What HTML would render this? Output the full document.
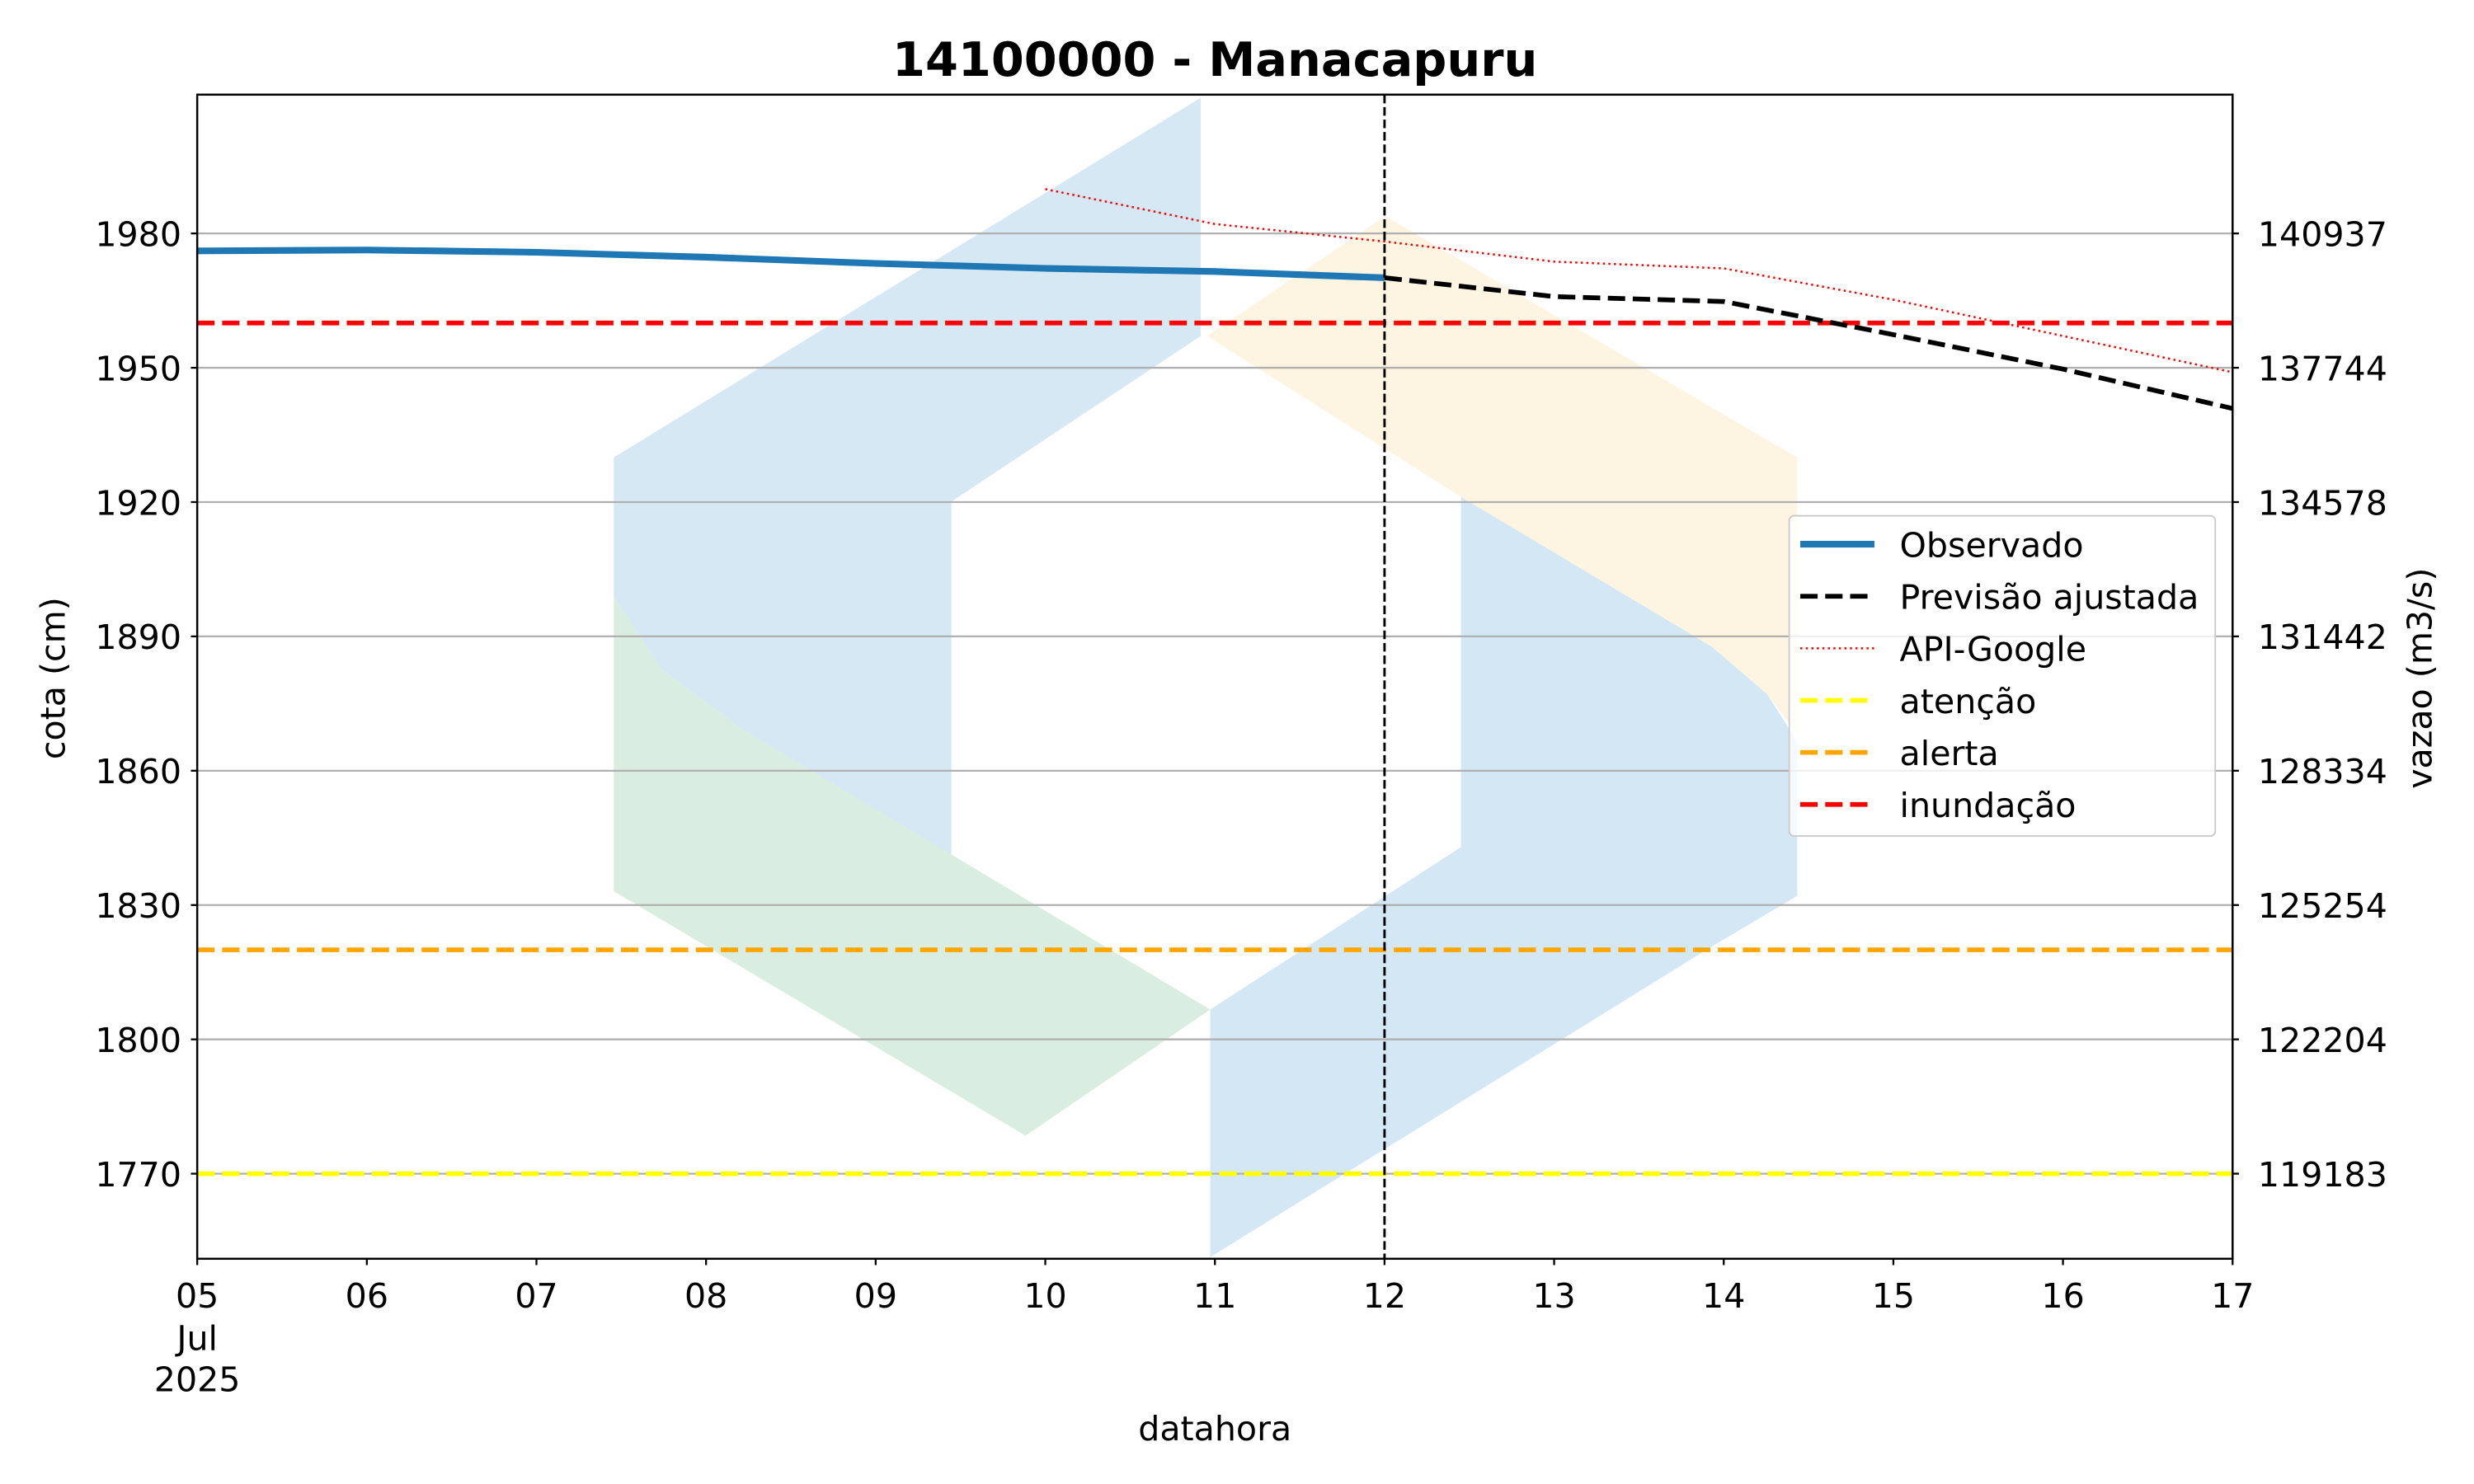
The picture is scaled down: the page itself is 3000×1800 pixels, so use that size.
<!DOCTYPE html>
<html><head><meta charset="utf-8"><style>
html,body{margin:0;padding:0;background:#fff}
svg{display:block;font-family:"DejaVu Sans","Liberation Sans",sans-serif}
</style></head><body>
<svg id="chart" width="3000" height="1800" viewBox="0 0 1568 940.8" xmlns="http://www.w3.org/2000/svg">
<rect width="1568" height="940.8" fill="#fff"/>
<g id="wm" opacity="1">
<polygon points="389,290 761,62 761,213 603,318 603,542 470,462 420,425 389,378" fill="#d6e8f4"/>
<polygon points="389,378 420,425 470,462 767,640 650,720 389,565" fill="#d9eee0"/>
<polygon points="926,315 1085,410 1120,440 1139,470 1139,568 1085,600 767,797 767,640 926,537" fill="#d4e7f4"/>
<polygon points="765,213 878,137 1139,290 1139,465 1120,440 1085,410 926,315" fill="#fdf4e1"/>
</g>
<g id="grid"></g>
<g id="series"></g>
<rect x="125" y="60" width="1290" height="738" fill="none" stroke="#000" stroke-width="1.3"/>
<g id="axes" font-size="21.5" fill="#000"></g>
<text x="770" y="48" text-anchor="middle" font-size="30" font-weight="bold">14100000 - Manacapuru</text>
<text x="770" y="913" text-anchor="middle" font-size="21.5">datahora</text>
<text transform="translate(41,430) rotate(-90)" text-anchor="middle" font-size="21.5">cota (cm)</text>
<text transform="translate(1541,430) rotate(-90)" text-anchor="middle" font-size="21.5">vazao (m3/s)</text>
<g id="legend">
<rect x="1134" y="327" width="270" height="203" rx="3" fill="#fff" fill-opacity="0.8" stroke="#ccc" stroke-width="1"/>
</g>
</svg>
<script>
const yTicks=[1770,1800,1830,1860,1890,1920,1950,1980];
const y2Labels=["119183","122204","125254","128334","131442","134578","137744","140937"];
const xTicks=[5,6,7,8,9,10,11,12,13,14,15,16,17];
const xTickLabels=["05","06","07","08","09","10","11","12","13","14","15","16","17"];
const obsDays=[5,6,7,8,9,10,11,12];
const obsVals=[1976.1,1976.3,1975.8,1974.7,1973.3,1972.2,1971.5,1970.1];
const fcDays=[12,13,14,15,16,17];
const fcVals=[1970.1,1965.9,1964.8,1957.4,1949.7,1940.9];
const apiDays=[10,11,12,13,14,15,16,17];
const apiVals=[1989.9,1982.1,1978.2,1973.7,1972.2,1965.2,1957.1,1949.0];
const thresholdNames=["atenção","alerta","inundação"];
const thresholdVals=[1770,1820,1960];
const forecastStart=12;

const X0=125,X1=1415,Y0=60,Y1=798,XMIN=5,XMAX=17,YMIN=1751,YMAX=2011;
const x=d=>X0+(d-XMIN)/(XMAX-XMIN)*(X1-X0);
const y=v=>Y1-(v-YMIN)/(YMAX-YMIN)*(Y1-Y0);
const NS="http://www.w3.org/2000/svg";
function mk(tag,attrs,parent){const e=document.createElementNS(NS,tag);for(const k in attrs)e.setAttribute(k,attrs[k]);parent.appendChild(e);return e;}
const grid=document.getElementById('grid'),series=document.getElementById('series'),axes=document.getElementById('axes'),legend=document.getElementById('legend');

yTicks.forEach((v,i)=>{
  const gl=mk('line',{x1:X0,x2:X1,y1:y(v),y2:y(v),stroke:'#b0b0b0','stroke-width':1.2},grid);
  
  
  const t=mk('line',{x1:X0-4,x2:X0,y1:y(v),y2:y(v),stroke:'#000','stroke-width':1.2},axes);
  
  
  const lb=mk('text',{x:X0-10,y:y(v)+8,'text-anchor':'end'},axes);lb.textContent=v;
  
  
  const t2=mk('line',{x1:X1,x2:X1+4,y1:y(v),y2:y(v),stroke:'#000','stroke-width':1.2},axes);
  
  
  const l2=mk('text',{x:X1+16,y:y(v)+8},axes);l2.textContent=y2Labels[i];
  
  
});
xTicks.forEach((d,i)=>{
  const t=mk('line',{x1:x(d),x2:x(d),y1:Y1,y2:Y1+4,stroke:'#000','stroke-width':1.2},axes);
  
  
  const lb=mk('text',{x:x(d),y:Y1+31,'text-anchor':'middle'},axes);lb.textContent=xTickLabels[i];
  
  
});
const m1=mk('text',{x:x(5),y:Y1+58,'text-anchor':'middle'},axes);m1.textContent='Jul';


const m2=mk('text',{x:x(5),y:Y1+84,'text-anchor':'middle'},axes);m2.textContent='2025';



const thColors=['#ffff00','#ffa500','#ff0000'];
thresholdVals.forEach((v,i)=>{
  const l=mk('line',{x1:X0,x2:X1,y1:y(v),y2:y(v),stroke:thColors[i],'stroke-width':3,'stroke-dasharray':'11 4.8'},series);
  
  
});
const pts=(ds,vs)=>ds.map((d,i)=>x(d)+','+y(vs[i])).join(' ');
const api=mk('polyline',{points:pts(apiDays,apiVals),fill:'none',stroke:'#ff0000','stroke-width':1.3,'stroke-dasharray':'1.3 2.2'},series);


const obs=mk('polyline',{points:pts(obsDays,obsVals),fill:'none',stroke:'#1f77b4','stroke-width':4.2},series);


const fc=mk('polyline',{points:pts(fcDays,fcVals),fill:'none',stroke:'#000','stroke-width':3,'stroke-dasharray':'11 4.8'},series);


const vl=mk('line',{x1:x(forecastStart),x2:x(forecastStart),y1:Y0,y2:Y1,stroke:'#000','stroke-width':1.5,'stroke-dasharray':'5.5 2.4'},series);



const legItems=[['Observado','#1f77b4',4.2,''],['Previsão ajustada','#000',3,'11 4.8'],['API-Google','#ff0000',1.3,'1.3 2.2'],['atenção','#ffff00',3,'11 4.8'],['alerta','#ffa500',3,'11 4.8'],['inundação','#ff0000',3,'11 4.8']];
legItems.forEach((it,i)=>{
  const yy=345+i*33;
  const a={x1:1141,x2:1188,y1:yy,y2:yy,stroke:it[1],'stroke-width':it[2]};
  if(it[3])a['stroke-dasharray']=it[3];
  const l=mk('line',a,legend);
  
  
  const t=mk('text',{x:1204,y:yy+8,'font-size':21.5},legend);t.textContent=it[0];
  
  
});
</script>
</body></html>
